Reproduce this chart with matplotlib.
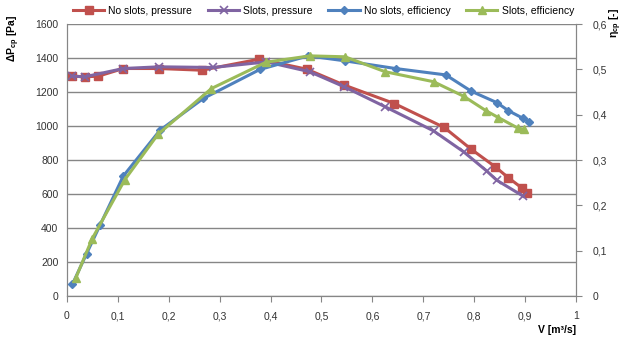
import numpy as np
import matplotlib
matplotlib.use("Agg")
import matplotlib.pyplot as plt

plt.rcParams["font.family"] = ["Liberation Sans", "DejaVu Sans"]
plt.rcParams["mathtext.fontset"] = "custom"
plt.rcParams["mathtext.bf"] = "Liberation Sans:bold"
plt.rcParams["mathtext.rm"] = "Liberation Sans"
plt.rcParams["mathtext.it"] = "Liberation Sans:italic"

# flow rate [m3/s] and pressure [Pa]
flow_ns_p = [0.01, 0.035, 0.062, 0.111, 0.181, 0.265, 0.378, 0.471, 0.545, 0.643, 0.741, 0.793, 0.841, 0.867, 0.893, 0.903]
press_ns = [1295, 1290, 1294, 1339, 1339, 1329, 1394, 1335, 1241, 1133, 992, 866, 761, 696, 637, 604]

flow_s_p = [0.01, 0.035, 0.111, 0.181, 0.287, 0.392, 0.477, 0.545, 0.625, 0.72, 0.779, 0.824, 0.844, 0.896]
press_s = [1294, 1290, 1339, 1349, 1345, 1378, 1320, 1231, 1114, 972, 849, 737, 682, 588]

# efficiency [-]
flow_ns_e = [0.011, 0.039, 0.065, 0.111, 0.183, 0.268, 0.379, 0.474, 0.546, 0.646, 0.744, 0.794, 0.844, 0.867, 0.896, 0.908]
eff_ns = [0.026, 0.094, 0.156, 0.265, 0.366, 0.436, 0.500, 0.530, 0.519, 0.502, 0.488, 0.452, 0.427, 0.409, 0.392, 0.384]

flow_s_e = [0.018, 0.05, 0.114, 0.179, 0.284, 0.391, 0.477, 0.546, 0.625, 0.72, 0.779, 0.823, 0.847, 0.885, 0.898]
eff_s = [0.041, 0.127, 0.257, 0.357, 0.458, 0.516, 0.530, 0.528, 0.495, 0.473, 0.441, 0.409, 0.394, 0.371, 0.368]

x_ticks = [0, 0.1, 0.2, 0.3, 0.4, 0.5, 0.6, 0.7, 0.8, 0.9, 1]
x_labels = ["0", "0,1", "0,2", "0,3", "0,4", "0,5", "0,6", "0,7", "0,8", "0,9", "1"]
y_ticks = [0, 200, 400, 600, 800, 1000, 1200, 1400, 1600]
y2_ticks = [0, 0.1, 0.2, 0.3, 0.4, 0.5, 0.6]
y2_labels = ["0", "0,1", "0,2", "0,3", "0,4", "0,5", "0,6"]

red = "#C0504D"
purple = "#8064A2"
blue = "#4F81BD"
green = "#9BBB59"
gray = "#868686"

fig = plt.figure(figsize=(6.36, 3.4), dpi=100)
ax = fig.add_axes([0.105, 0.129, 0.801, 0.8])
ax2 = ax.twinx()

l1, = ax.plot(flow_ns_p, press_ns, color=red, lw=2.2, marker="s", ms=6, label="No slots, pressure", zorder=3)
l2, = ax.plot(flow_s_p, press_s, color=purple, lw=2.2, marker="x", ms=6, mew=1.2, label="Slots, pressure", zorder=4)
l3, = ax2.plot(flow_ns_e, eff_ns, color=blue, lw=2.2, marker="D", ms=4.5, label="No slots, efficiency", zorder=3)
l4, = ax2.plot(flow_s_e, eff_s, color=green, lw=2.2, marker="^", ms=6, label="Slots, efficiency", zorder=4)

ax.set_xlim(0, 1)
ax.set_ylim(0, 1600)
ax2.set_ylim(0, 0.6)
ax.set_xticks(x_ticks)
ax.set_xticklabels(x_labels)
ax.set_yticks(y_ticks)
ax2.set_yticks(y2_ticks)
ax2.set_yticklabels(y2_labels)

ax.yaxis.grid(True, color=gray, lw=1)
ax.set_axisbelow(True)

for a in (ax, ax2):
    for s in a.spines.values():
        s.set_color(gray)
    a.spines["top"].set_visible(False)
    a.tick_params(colors=gray, labelcolor="#333333", labelsize=7.5, length=4, width=0.8)
ax.tick_params(axis="y", length=0, pad=6)
ax.tick_params(axis="x", pad=7)
ax2.tick_params(axis="y", pad=8)

fig.text(0.022, 0.955, r"$\mathbf{\Delta P_{cp}}$ [Pa]", rotation=90, fontsize=7.5, fontweight="bold", va="top", ha="center")
fig.text(0.968, 0.975, r"$\mathbf{\eta_{cp}}$ [-]", rotation=90, fontsize=7.5, fontweight="bold", va="top", ha="center")
fig.text(0.906, 0.02, "V [m³/s]", fontsize=7.5, fontweight="bold", ha="right")

fig.legend(handles=[l1, l2, l3, l4], loc="upper left", bbox_to_anchor=(0.1, 1.01), ncol=4,
           frameon=False, fontsize=7.5, handlelength=3.0, columnspacing=1.5, handletextpad=0.4)

fig.savefig("out.png", dpi=100)
